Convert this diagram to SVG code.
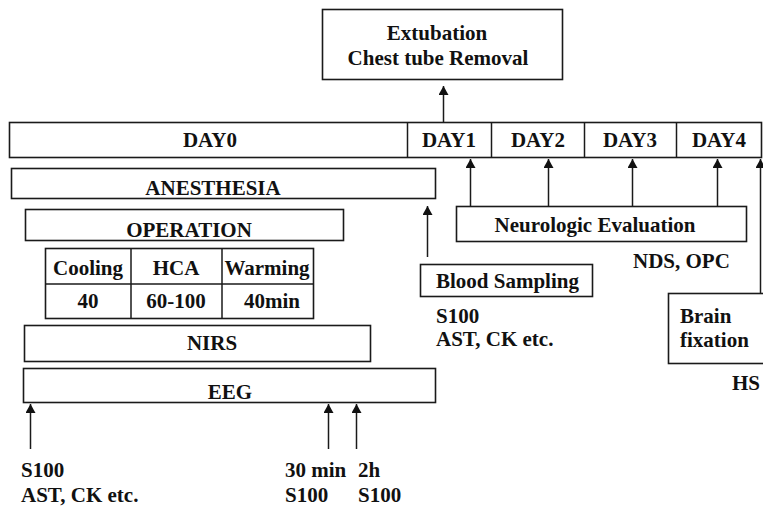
<svg xmlns="http://www.w3.org/2000/svg" width="763" height="508" viewBox="0 0 763 508">
<defs>
<style>
.b{fill:#fff;stroke:#1a1a1a;stroke-width:1.6}
.l{stroke:#1a1a1a;stroke-width:1.5;fill:none}
text{font-family:'Liberation Serif','Times New Roman',Times,'DejaVu Serif',serif;font-weight:700;font-size:21px;fill:#111}
.c{text-anchor:middle}
</style>
<marker id="ah" markerWidth="10" markerHeight="10" refX="9" refY="5" orient="auto" markerUnits="userSpaceOnUse">
<path d="M0,0 L9,5 L0,10 Z" fill="#111"/>
</marker>
</defs>
<rect width="763" height="508" fill="#fff"/>
<g id="extubation">
<rect class="b" x="322.5" y="9.5" width="240" height="70"/>
<text class="c" x="437" y="40">Extubation</text>
<text class="c" x="438" y="65">Chest tube Removal</text>
</g>
<g id="days">
<rect class="b" x="9.5" y="122.5" width="752" height="35"/>
<line class="l" x1="407.5" y1="122.5" x2="407.5" y2="157.5"/>
<line class="l" x1="491.5" y1="122.5" x2="491.5" y2="157.5"/>
<line class="l" x1="584.5" y1="122.5" x2="584.5" y2="157.5"/>
<line class="l" x1="676.5" y1="122.5" x2="676.5" y2="157.5"/>
<text class="c" x="210" y="147">DAY0</text>
<text class="c" x="449" y="147">DAY1</text>
<text class="c" x="538" y="147">DAY2</text>
<text class="c" x="630" y="147">DAY3</text>
<text class="c" x="719" y="147">DAY4</text>
</g>
<g id="anesthesia">
<rect class="b" x="11.5" y="168.5" width="424" height="30"/>
<text class="c" x="213" y="195">ANESTHESIA</text>
</g>
<g id="operation">
<rect class="b" x="25.5" y="209.5" width="318" height="31"/>
<text class="c" x="189" y="237">OPERATION</text>
</g>
<g id="table">
<rect class="b" x="45.5" y="248.5" width="268" height="70"/>
<line class="l" x1="45.5" y1="284" x2="313.5" y2="284"/>
<line class="l" x1="131" y1="248.5" x2="131" y2="318.5"/>
<line class="l" x1="222" y1="248.5" x2="222" y2="318.5"/>
<text class="c" x="88" y="275">Cooling</text>
<text class="c" x="176" y="275">HCA</text>
<text class="c" x="267" y="275">Warming</text>
<text class="c" x="88" y="308">40</text>
<text class="c" x="176" y="308">60-100</text>
<text class="c" x="272" y="308">40min</text>
</g>
<g id="nirs">
<rect class="b" x="24.5" y="325.5" width="346" height="36"/>
<text class="c" x="212" y="350">NIRS</text>
</g>
<g id="eeg">
<rect class="b" x="23.5" y="368.5" width="412" height="34"/>
<text class="c" x="230" y="399">EEG</text>
</g>
<g id="blood">
<rect class="b" x="420.5" y="264.5" width="172" height="32"/>
<text x="436" y="288">Blood Sampling</text>
<text x="436" y="323">S100</text>
<text x="436" y="346">AST, CK etc.</text>
</g>
<g id="neuro">
<rect class="b" x="456.5" y="206.5" width="290" height="35"/>
<text class="c" x="595" y="232">Neurologic Evaluation</text>
<text x="633" y="268">NDS, OPC</text>
</g>
<g id="brain">
<rect class="b" x="668.5" y="293.5" width="100" height="70"/>
<text x="680" y="323">Brain</text>
<text x="680" y="347">fixation</text>
<text x="732" y="390">HS</text>
</g>
<g id="labels">
<text x="21" y="477">S100</text>
<text x="21" y="502">AST, CK etc.</text>
<text x="285" y="477">30 min</text>
<text x="358" y="477">2h</text>
<text x="285" y="502">S100</text>
<text x="358" y="502">S100</text>
</g>
<g id="connectors">
<line class="l" x1="443.5" y1="122" x2="443.5" y2="86" marker-end="url(#ah)"/>
<line class="l" x1="427.5" y1="257" x2="427.5" y2="206" marker-end="url(#ah)"/>
<line class="l" x1="470.5" y1="206" x2="470.5" y2="159" marker-end="url(#ah)"/>
<line class="l" x1="548.5" y1="206" x2="548.5" y2="159" marker-end="url(#ah)"/>
<line class="l" x1="632.5" y1="206" x2="632.5" y2="159" marker-end="url(#ah)"/>
<line class="l" x1="717.5" y1="206" x2="717.5" y2="159" marker-end="url(#ah)"/>
<line class="l" x1="760.5" y1="293" x2="760.5" y2="159" marker-end="url(#ah)"/>
<line class="l" x1="30.5" y1="449" x2="30.5" y2="404" marker-end="url(#ah)"/>
<line class="l" x1="328.5" y1="449" x2="328.5" y2="404" marker-end="url(#ah)"/>
<line class="l" x1="356.5" y1="449" x2="356.5" y2="404" marker-end="url(#ah)"/>
</g>
</svg>
